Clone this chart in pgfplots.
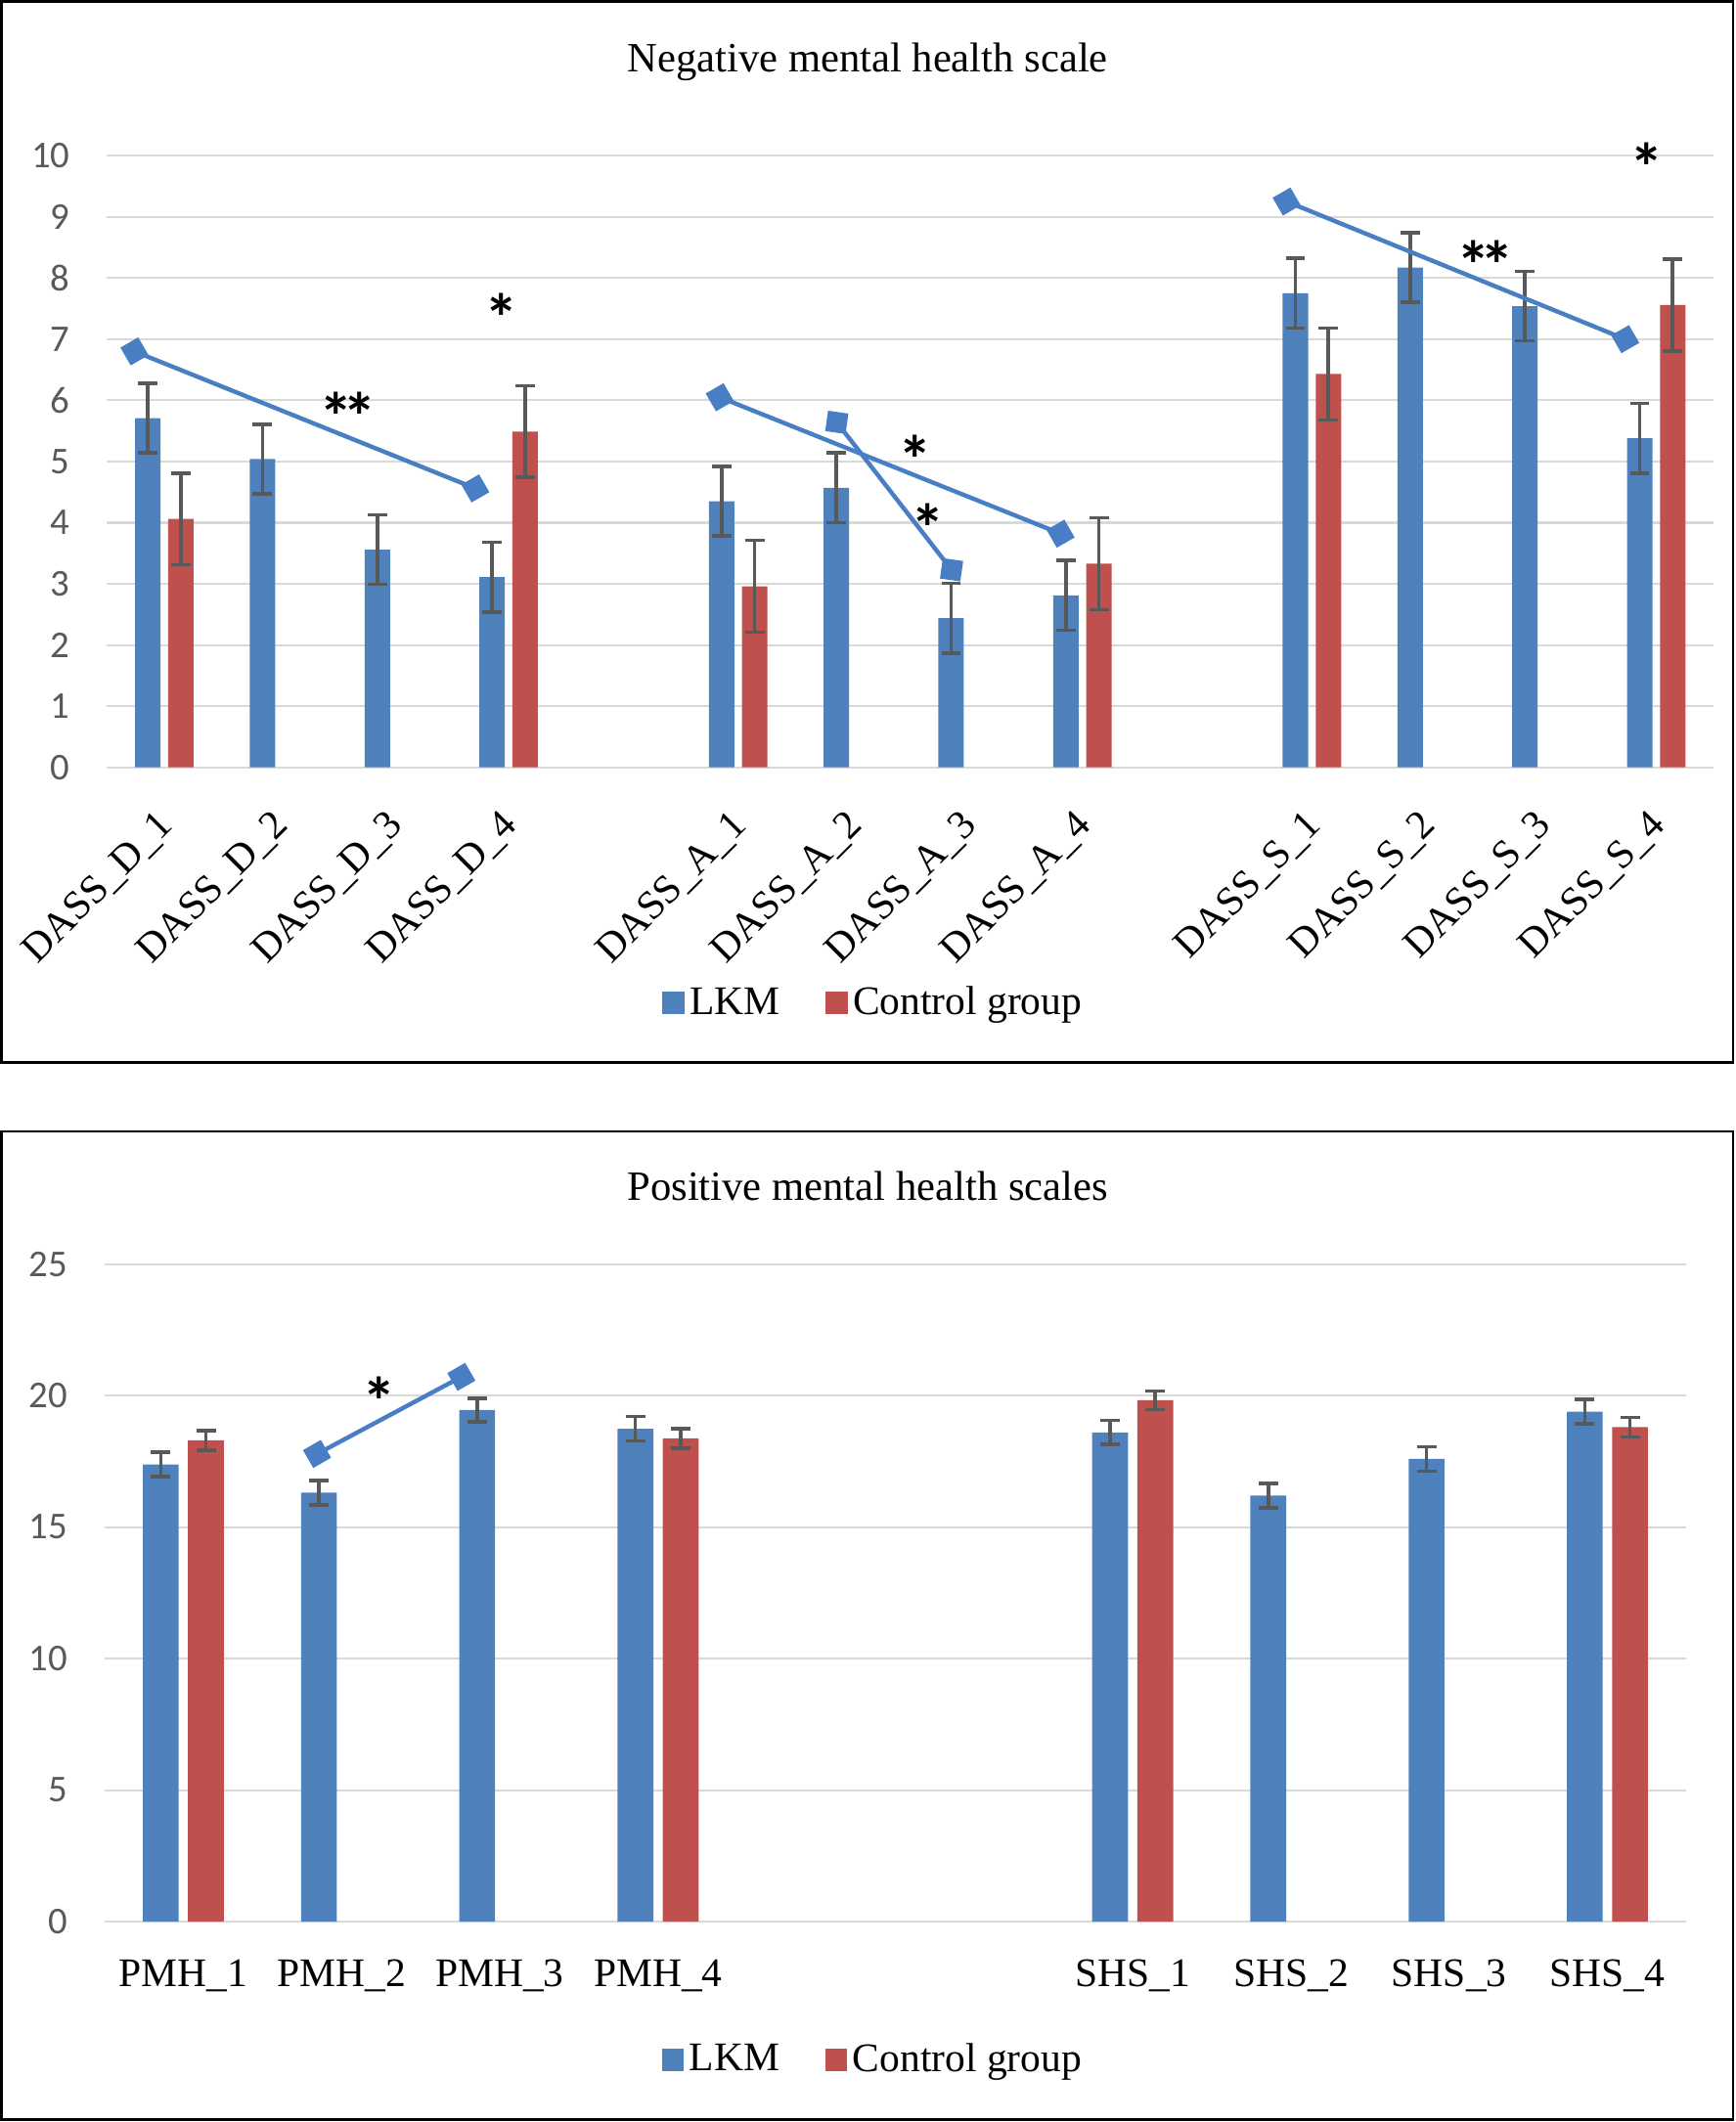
\documentclass[border=0pt]{standalone}
\usepackage{fontspec}
\setmainfont{Liberation Serif}
\newfontfamily\calibri{Carlito}
\usepackage{pgfplots}
\pgfplotsset{compat=1.18}

\definecolor{lkm}{HTML}{4F81BD}
\definecolor{ctrl}{HTML}{C0504D}
\definecolor{lineblue}{HTML}{4A7EC4}
\definecolor{errgray}{HTML}{595959}
\definecolor{gridgray}{HTML}{D9D9D9}

% data: x slot, mean, error
\pgfplotstableread{
x y e
0 5.71 0.57
1 5.04 0.57
2 3.56 0.57
3 3.11 0.57
5 4.35 0.57
6 4.57 0.57
7 2.44 0.57
8 2.81 0.57
10 7.75 0.57
11 8.17 0.57
12 7.54 0.57
13 5.38 0.57
}\negLKM
\pgfplotstableread{
x y e
0 4.06 0.75
3 5.49 0.75
5 2.96 0.75
8 3.33 0.75
10 6.43 0.75
13 7.56 0.75
}\negCtrl
\pgfplotstableread{
x y e
0 17.38 0.46
1 16.31 0.46
2 19.45 0.45
3 18.74 0.46
6 18.60 0.46
7 16.20 0.46
8 17.59 0.46
9 19.39 0.47
}\posLKM
\pgfplotstableread{
x y e
0 18.30 0.37
3 18.37 0.37
6 19.82 0.35
9 18.80 0.37
}\posCtrl

\tikzset{sigstar/.style={font=\calibri\bfseries\fontsize{25}{25}\selectfont, yshift=-5pt}}
\newcommand{\twostars}{*\kern-4pt*}

\pgfplotsset{
  panel/.style={
    scale only axis, clip=false,
    axis lines=left, axis line style={draw=none},
    tick style={draw=none}, major tick length=0pt,
    ymajorgrids, grid style={gridgray, line width=0.75pt},
    ymin=0,
    /pgf/number format/assume math mode=true,
    yticklabel style={font=\calibri\fontsize{14}{16}\selectfont, text=errgray,
      anchor=east, inner sep=0pt, xshift=-13.5pt},
    legend style={draw=none, fill=none, anchor=center,
      font=\fontsize{15}{18}\selectfont, legend columns=2,
      /tikz/every even column/.append style={column sep=15pt}},
  },
  % error bars moved by hand onto the shifted bars
  errs/.style={
    /pgfplots/error bars/y dir=both,
    /pgfplots/error bars/y explicit,
    /pgfplots/error bars/error bar style={errgray, line width=1.3pt, xshift=#1},
    /pgfplots/error bars/error mark options={rotate=90, errgray, mark size=3.6pt, line width=1.3pt}},
  lkmbar/.style={ybar, fill=lkm, draw=none, bar shift=#1, errs=#1,
    legend image code/.code={\fill[lkm] (0pt,-4pt) rectangle (8pt,4pt);}},
  ctrlbar/.style={ybar, fill=ctrl, draw=none, bar shift=#1, errs=#1,
    legend image code/.code={\fill[ctrl] (0pt,-4pt) rectangle (8pt,4pt);}},
  sig/.style={lineblue, line width=1.6pt, mark=square*, mark size=3pt,
    mark options={solid, rotate=#1}, forget plot},
}

\begin{document}
\begin{tikzpicture}
\useasboundingbox (0,0) rectangle (641pt,-784pt);
\draw[line width=1pt] (0.5pt,-0.5pt) rectangle (640.2pt,-392.5pt);
\draw[line width=1pt] (0.5pt,-418pt) rectangle (640.2pt,-783.2pt);

\node[anchor=base, font=\fontsize{15.4}{18}\selectfont] at (320.5pt,-26.5pt) {Negative mental health scale};
\node[anchor=base, font=\fontsize{15.4}{18}\selectfont] at (320.5pt,-443.5pt) {Positive mental health scales};

% negative scales
\begin{axis}[panel,
  at={(39.5pt,-283.5pt)}, anchor=south west,
  width=593.5pt, height=226pt,
  xmin=-0.5, xmax=13.5, ymax=10, ytick={0,1,...,10},
  xtick={0,1,2,3,5,6,7,8,10,11,12,13},
  xticklabels={DASS\_D\_1,DASS\_D\_2,DASS\_D\_3,DASS\_D\_4,
    DASS\_A\_1,DASS\_A\_2,DASS\_A\_3,DASS\_A\_4,
    DASS\_S\_1,DASS\_S\_2,DASS\_S\_3,DASS\_S\_4},
  xticklabel style={font=\fontsize{15}{18}\selectfont, xshift=4pt, yshift=-22pt,
    rotate=45, anchor=base east, inner sep=0pt},
  legend style={at={(0.478,-0.385)}},
]
\addplot[lkmbar=-6.1pt, bar width=9.4pt] table[x=x, y=y, y error=e] {\negLKM};
\addlegendentry{LKM}
\addplot[ctrlbar=6.1pt, bar width=9.4pt] table[x=x, y=y, y error=e] {\negCtrl};
\addlegendentry{Control group}

\addplot[sig=30] coordinates {(-0.26,6.80) (2.71,4.56)};
\addplot[sig=30] coordinates {(4.84,6.05) (7.81,3.82)};
\addplot[sig=-8] coordinates {(5.86,5.64) (6.86,3.23)};
\addplot[sig=30] coordinates {(9.78,9.25) (12.73,7.00)};

\node[sigstar] at (axis cs:1.60,5.96) {\twostars};
\node[sigstar] at (axis cs:2.94,7.57) {*};
\node[sigstar] at (axis cs:6.545,5.25) {*};
\node[sigstar] at (axis cs:6.65,4.14) {*};
\node[sigstar] at (axis cs:11.51,8.43) {\twostars};
\node[sigstar] at (axis cs:12.92,10.04) {*};
\end{axis}

% positive scales
\begin{axis}[panel,
  at={(38.5pt,-710pt)}, anchor=south west,
  width=584.5pt, height=243pt,
  xmin=-0.5, xmax=9.5, ymax=25, ytick={0,5,...,25},
  xtick={0,1,2,3,6,7,8,9},
  xticklabels={PMH\_1,PMH\_2,PMH\_3,PMH\_4,SHS\_1,SHS\_2,SHS\_3,SHS\_4},
  xticklabel style={font=\fontsize{15}{18}\selectfont, yshift=-24pt,
    anchor=base, inner sep=0pt},
  legend style={at={(0.487,-0.21)}},
]
\addplot[lkmbar=-8.35pt, bar width=13.25pt] table[x=x, y=y, y error=e] {\posLKM};
\addlegendentry{LKM}
\addplot[ctrlbar=8.35pt, bar width=13.25pt] table[x=x, y=y, y error=e] {\posCtrl};
\addlegendentry{Control group}

\addplot[sig=30] coordinates {(0.845,17.78) (1.757,20.71)};
\node[sigstar] at (axis cs:1.24,20.3) {*};
\end{axis}
\end{tikzpicture}
\end{document}
